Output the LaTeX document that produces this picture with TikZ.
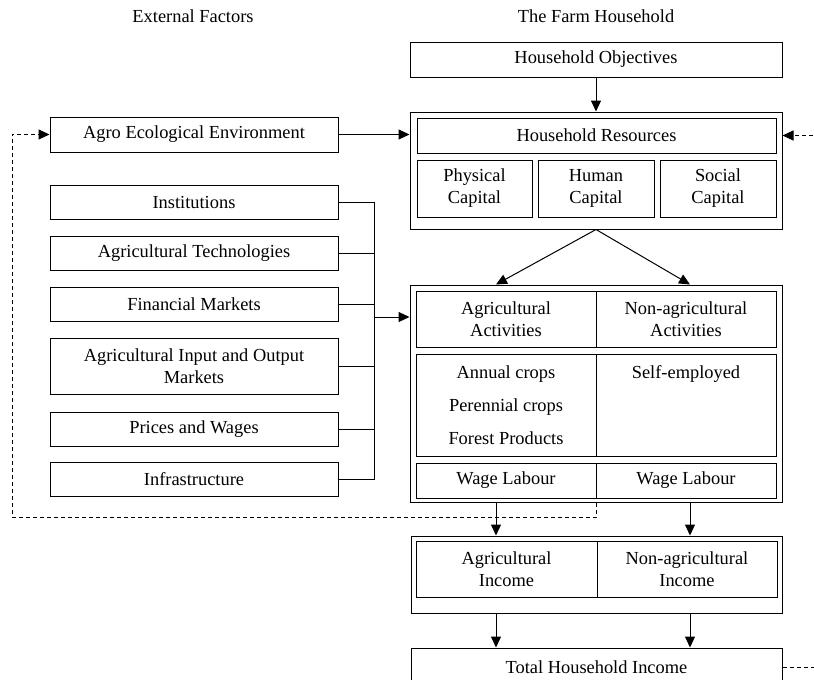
\documentclass[tikz,border=0pt]{standalone}
\usepackage{fontspec}
\setmainfont{Liberation Serif}
\usetikzlibrary{arrows.meta}

\begin{document}
\begin{tikzpicture}[x=1pt,y=-1pt,>={Triangle[length=11pt,width=10pt]},line width=1pt,
  every node/.style={font=\fontsize{18.4}{22}\selectfont}]

    \tikzstyle{box}=[draw=black,fill=white,align=center,inner sep=2pt]
    \tikzstyle{feedback}=[dash pattern=on 4pt off 3pt]

    \useasboundingbox (0,0) rectangle (814,680);

    % headings
    \node (hext)  at (193,16) {External Factors};
    \node (hfarm) at (596,16) {The Farm Household};

    % external factors
    \node[box,minimum width=288,minimum height=35] (agro)  at (194,134.5) {Agro Ecological Environment};
    \node[box,minimum width=288,minimum height=34] (inst)  at (194,202) {Institutions};
    \node[box,minimum width=288,minimum height=34] (tech)  at (194,253) {Agricultural Technologies};
    \node[box,minimum width=288,minimum height=34] (fin)   at (194,304) {Financial Markets};
    \node[box,minimum width=288,minimum height=56] (mkt)   at (194,366) {Agricultural Input and Output\\Markets};
    \node[box,minimum width=288,minimum height=34] (price) at (194,429) {Prices and Wages};
    \node[box,minimum width=288,minimum height=34] (infra) at (194,479) {Infrastructure};

    % the farm household
    \node[box,minimum width=372,minimum height=35] (obj) at (596,59.5) {Household Objectives};

    \node[box,minimum width=372,minimum height=117] (res) at (596,170.5) {};
    \node[box,minimum width=359,minimum height=35] (resh) at (596.5,135.5) {Household Resources};
    \node[box,minimum width=115,minimum height=57] (phys) at (474.5,188.5) {Physical\\Capital};
    \node[box,minimum width=116,minimum height=57] (hum)  at (596,188.5) {Human\\Capital};
    \node[box,minimum width=116,minimum height=57] (soc)  at (718,188.5) {Social\\Capital};

    \node[box,minimum width=372,minimum height=217] (act) at (596,393.5) {};
    \node[box,minimum width=180,minimum height=56] (actA) at (506,319) {Agricultural\\Activities};
    \node[box,minimum width=180,minimum height=56] (actN) at (686,319) {Non-agricultural\\Activities};
    \node[box,minimum width=180,minimum height=102] (crops) at (506,405) {Annual crops\\[11pt]Perennial crops\\[11pt]Forest Products};
    \node[box,minimum width=180,minimum height=102] (self) at (686,405) {};
    \node (selfemp) at (686,374) {Self-employed};
    \node[box,minimum width=180,minimum height=35] (wageA) at (506,480.5) {Wage Labour};
    \node[box,minimum width=180,minimum height=35] (wageN) at (686,480.5) {Wage Labour};

    \node[box,minimum width=371,minimum height=77] (inc) at (596.5,574.5) {};
    \node[box,minimum width=181,minimum height=56] (incA) at (506.5,569) {Agricultural\\Income};
    \node[box,minimum width=180,minimum height=56] (incN) at (687,569) {Non-agricultural\\Income};

    \node[box,minimum width=371,minimum height=38] (total) at (596.5,667) {Total Household Income};

    \coordinate (ca)  at (496,0);
    \coordinate (cn)  at (690,0);
    \coordinate (bus) at (374,317);
    \coordinate (fb)  at (12,517);
    \coordinate (rt)  at (820,0);

    % connectors
    \draw[->] (obj) -- (res);
    \draw[->] (agro.east) -- (agro.east -| res.west);
    \draw[->] (res.south) -- (act.north -| ca);
    \draw[->] (res.south) -- (act.north -| cn);
    \draw[->] (act.south -| ca) -- (inc.north -| ca);
    \draw[->] (act.south -| cn) -- (inc.north -| cn);
    \draw[->] (inc.south -| ca) -- (total.north -| ca);
    \draw[->] (inc.south -| cn) -- (total.north -| cn);

    \draw (inst.east) -- (inst.east -| bus) -- (infra.east -| bus) -- (infra.east);
    \draw (tech.east) -- (tech.east -| bus);
    \draw (fin.east) -- (fin.east -| bus);
    \draw (mkt.east) -- (mkt.east -| bus);
    \draw (price.east) -- (price.east -| bus);
    \draw[->] (bus) -- (bus -| act.west);

    % feedback loops
    \draw[feedback,->] (act.south -| wageA.east) -- (fb -| wageA.east) -- (fb) -- (fb |- agro.west) -- (agro.west);
    \draw[feedback,->] (rt |- resh.east) -- (resh.east -| res.east);
    \draw[feedback] (total.east) -- (total.east -| rt);

\end{tikzpicture}
\end{document}
